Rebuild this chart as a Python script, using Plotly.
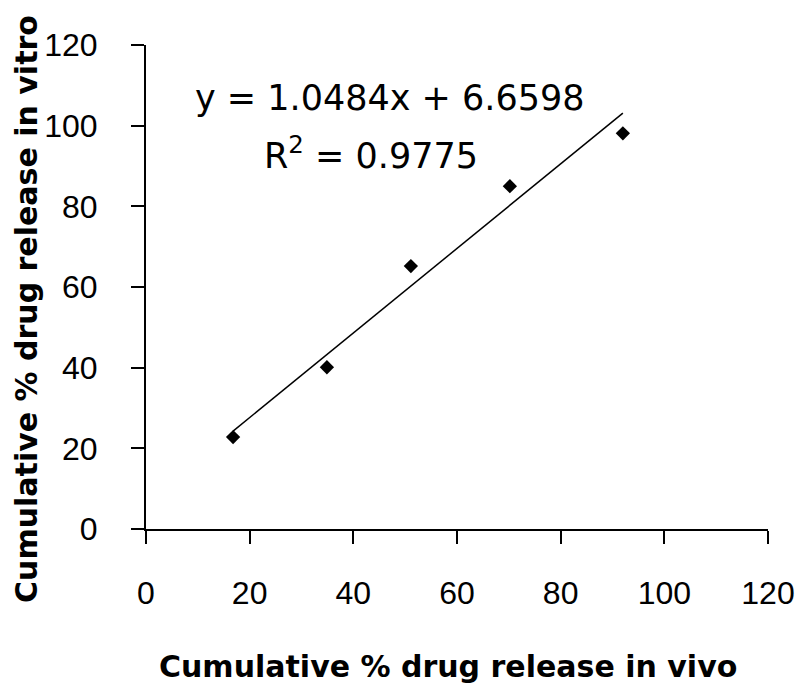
import plotly.graph_objects as go

# in vivo vs in vitro cumulative release (%)
in_vivo = [16.8, 34.9, 51.1, 70.2, 92.0]
in_vitro = [22.8, 40.1, 65.2, 85.0, 98.1]

slope = 1.0484
intercept = 6.6598
r_squared = 0.9775

tick_vals = [0, 20, 40, 60, 80, 100, 120]

trend_x = [min(in_vivo), max(in_vivo)]
trend_y = [slope * v + intercept for v in trend_x]

fig = go.Figure()

fig.add_trace(go.Scatter(
    x=trend_x, y=trend_y, mode='lines',
    line=dict(color='black', width=1.5),
    showlegend=False, hoverinfo='skip'
))

fig.add_trace(go.Scatter(
    x=in_vivo, y=in_vitro, mode='markers',
    marker=dict(symbol='diamond', size=11, color='black'),
    showlegend=False
))

axis_font = dict(family='Liberation Sans, Arial, sans-serif', size=32, color='black')
title_font = dict(family='DejaVu Sans, Verdana, sans-serif', size=30, color='black')
eq_font = dict(family='DejaVu Sans, Verdana, sans-serif', size=35, color='black')

common = dict(
    range=[0, 120], tickvals=tick_vals, showgrid=False, zeroline=False,
    showline=True, linecolor='black', linewidth=2,
    ticks='outside', ticklen=13, tickwidth=2, tickcolor='black',
    tickfont=axis_font, automargin=False
)
fig.update_xaxes(**common, ticklabelstandoff=22)
fig.update_yaxes(**common, ticklabelstandoff=27)

fig.add_annotation(
    x=47.1, y=106.8, xref='x', yref='y', showarrow=False,
    xanchor='center', yanchor='middle',
    text=f"y = {slope}x + {intercept}", font=eq_font
)
fig.add_annotation(
    x=43.4, y=93.2, xref='x', yref='y', showarrow=False,
    xanchor='center', yanchor='middle',
    text=f"R<sup>2</sup> = {r_squared}", font=eq_font
)

# axis titles
fig.add_annotation(
    x=0.4855, y=-0.285, xref='paper', yref='paper', showarrow=False,
    xanchor='center', yanchor='middle',
    text="<b>Cumulative % drug release in vivo</b>", font=title_font
)
fig.add_annotation(
    x=-0.191, y=0.455, xref='paper', yref='paper', showarrow=False,
    xanchor='center', yanchor='middle', textangle=-90,
    text="<b>Cumulative % drug release in vitro</b>", font=title_font
)

fig.update_layout(
    width=799, height=691,
    margin=dict(l=146, r=31, t=45, b=162),
    plot_bgcolor='white', paper_bgcolor='white',
    showlegend=False
)

# drop the default page margin so the figure sits at the window's corner
fig.write_html(
    "out.html",
    config={'displayModeBar': False},
    post_script="document.body.style.margin='0';"
)
